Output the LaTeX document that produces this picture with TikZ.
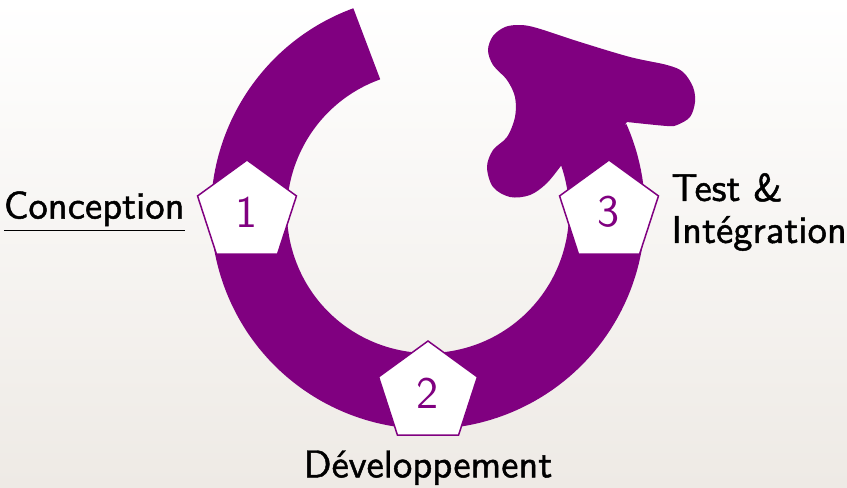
\documentclass[tikz,border=0pt]{standalone}
\usepackage{fontspec}
\usepackage{tikz}
\usetikzlibrary{positioning, shapes.geometric}

\newfontfamily\phasefont{lmsans10-regular.otf}[FakeBold=1.2]

\definecolor{cyclepurple}{RGB}{128,0,128}
\definecolor{slidebg}{RGB}{238,234,229}

\tikzset{
	phase/.style={draw=cyclepurple, fill=white, line width=0.45pt,
		regular polygon, regular polygon sides=5, minimum size=31.2pt,
		inner sep=0pt, text=cyclepurple,
		font=\sffamily\fontsize{13.5}{16}\selectfont},
	phaselabel/.style={inner sep=0pt, font=\phasefont\fontsize{11.6}{12.6}\selectfont}
}

\begin{document}
\begin{tikzpicture}[x=0.3pt, y=0.3pt]

% fond
\fill [top color=white, middle color=white!55!slidebg, bottom color=slidebg] (0,0) rectangle (847,487);
\useasboundingbox (0,0) rectangle (847,487);

% fleche circulaire
\coordinate (ctr) at (428,275);
\draw [cyclepurple, line width=22.8pt] (ctr) ++(110:179) arc [start angle=110, end angle=384, radius=179];

% pointe de la fleche
\fill [cyclepurple] plot [smooth, tension=0.55] coordinates {
	(563,324) (547,304) (530,292) (510,290) (493,300) (487,320) (493,337)
	(507,350) (515,370) (515,390) (507,407) (493,422) (488,437) (493,451)
	(505,460) (520,462) (537,459) (580,445) (630,430) (667,422) (683,415)
	(693,400) (695,385) (690,370) (677,362) (667,361) (627,365)
} -- (600,330) -- cycle;

% etapes
\node [phase] (p1) at (247,275) {1};
\node [phase] (p2) at (428,94) {2};
\node [phase] (p3) at (609,275) {3};

\node [phaselabel, left=5pt of p1] (conc) {\underline{Conception}};
\node [phaselabel, below=4.2pt of p2] (dev) {Développement};
\node [phaselabel, right=5pt of p3, align=left] (test) {Test \&\\Intégration};

\end{tikzpicture}
\end{document}
